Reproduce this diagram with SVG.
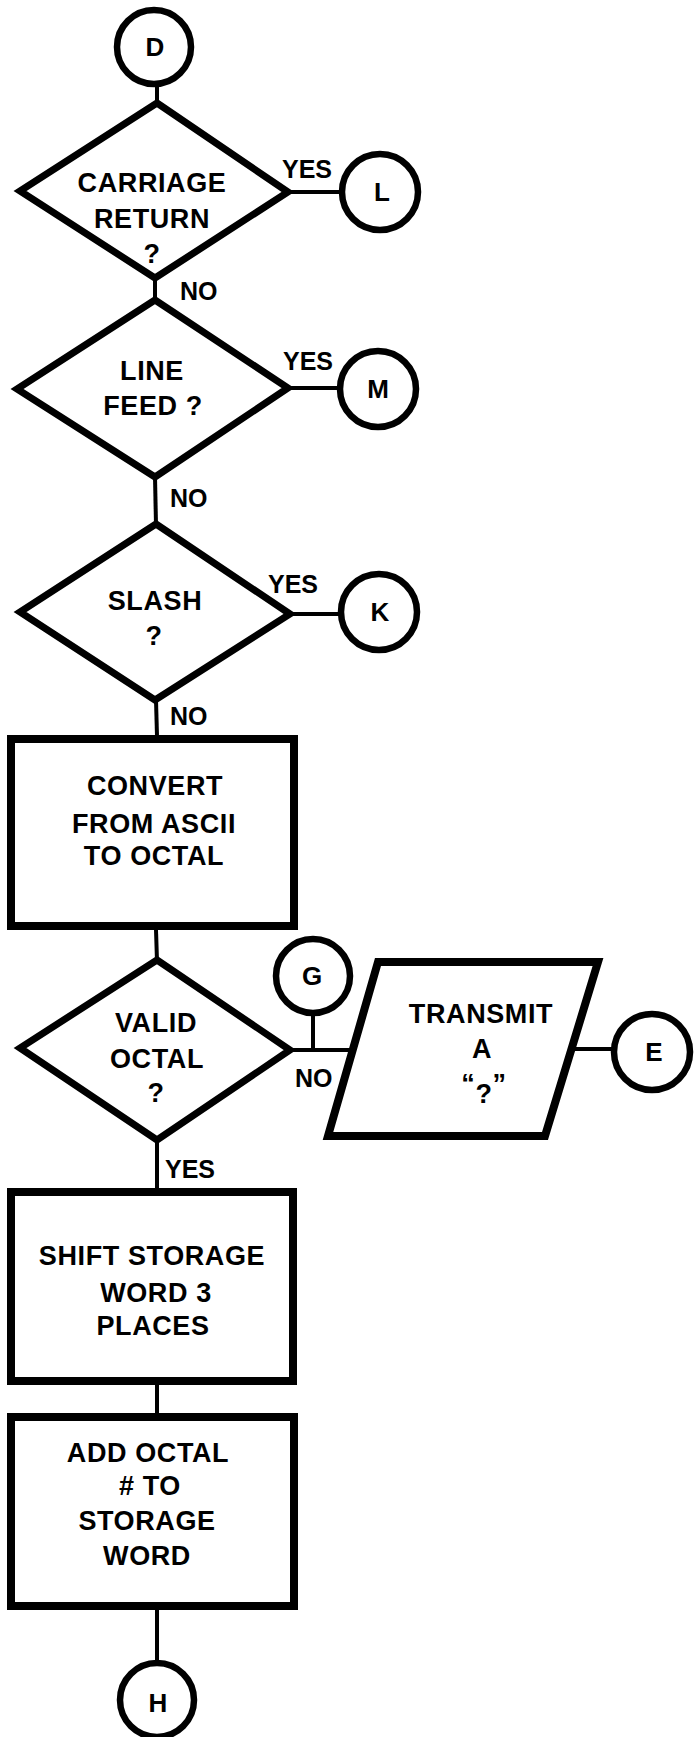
<svg xmlns="http://www.w3.org/2000/svg" width="699" height="1737" viewBox="0 0 699 1737">
<style>
.bg{fill:#fff}
.dia{fill:none;stroke:#000;stroke-width:7;stroke-linejoin:miter}
.box{fill:none;stroke:#000;stroke-width:8}
.circ{fill:none;stroke:#000;stroke-width:6.5}
.ln{fill:none;stroke:#000;stroke-width:4}
text{font-family:"Liberation Sans",Arial,sans-serif;font-weight:bold;fill:#000}
.t{font-size:27px;text-anchor:middle;letter-spacing:0.6px}
.l{font-size:25px}
.c{font-size:26px;text-anchor:middle}
</style>
<rect class="bg" x="0" y="0" width="699" height="1737"/>
<g id="connectors">
<line class="ln" x1="157" y1="84" x2="157" y2="104"/>
<line class="ln" x1="288" y1="192" x2="343" y2="192"/>
<line class="ln" x1="155" y1="278" x2="155" y2="301"/>
<line class="ln" x1="288" y1="388" x2="341" y2="388"/>
<line class="ln" x1="155" y1="477" x2="156" y2="525"/>
<line class="ln" x1="290" y1="614" x2="342" y2="614"/>
<line class="ln" x1="156" y1="700" x2="157" y2="736"/>
<line class="ln" x1="156" y1="930" x2="157" y2="961"/>
<line class="ln" x1="290" y1="1050" x2="355" y2="1050"/>
<line class="ln" x1="313" y1="1013" x2="313" y2="1050"/>
<line class="ln" x1="572" y1="1049" x2="614" y2="1049"/>
<line class="ln" x1="157" y1="1140" x2="157" y2="1189"/>
<line class="ln" x1="157" y1="1385" x2="157" y2="1414"/>
<line class="ln" x1="157" y1="1610" x2="157" y2="1663"/>
<text class="l" x="282" y="178">YES</text>
<text class="l" x="180" y="300">NO</text>
<text class="l" x="283" y="370">YES</text>
<text class="l" x="170" y="507">NO</text>
<text class="l" x="268" y="593">YES</text>
<text class="l" x="170" y="725">NO</text>
<text class="l" x="295" y="1087">NO</text>
<text class="l" x="165" y="1178">YES</text>
</g>
<g id="D"><circle class="circ" cx="154" cy="47" r="37"/><text class="c" x="155" y="56">D</text></g>
<g id="carriage">
<polygon class="dia" points="157,103 288,192 155,278 20,191"/>
<text class="t" x="152" y="192">CARRIAGE</text>
<text class="t" x="152" y="228">RETURN</text>
<text class="t" x="152" y="263">?</text>
</g>
<g id="L"><circle class="circ" cx="380" cy="192" r="38"/><text class="c" x="382" y="201">L</text></g>
<g id="linefeed">
<polygon class="dia" points="155,300 288,388 155,477 17,389"/>
<text class="t" x="152" y="380">LINE</text>
<text class="t" x="153" y="415">FEED ?</text>
</g>
<g id="M"><circle class="circ" cx="378" cy="389" r="38"/><text class="c" x="378" y="398">M</text></g>
<g id="slash">
<polygon class="dia" points="156,524 290,614 155,700 20,612"/>
<text class="t" x="155" y="610">SLASH</text>
<text class="t" x="154" y="645">?</text>
</g>
<g id="K"><circle class="circ" cx="379" cy="612" r="38"/><text class="c" x="380" y="621">K</text></g>
<g id="convert">
<rect class="box" x="11" y="739" width="283" height="187"/>
<text class="t" x="155" y="795">CONVERT</text>
<text class="t" x="154" y="833">FROM ASCII</text>
<text class="t" x="154" y="865">TO OCTAL</text>
</g>
<g id="valid">
<polygon class="dia" points="157,960 290,1050 157,1140 20,1048"/>
<text class="t" x="156" y="1032">VALID</text>
<text class="t" x="157" y="1068">OCTAL</text>
<text class="t" x="156" y="1102">?</text>
</g>
<g id="G"><circle class="circ" cx="313" cy="976" r="37"/><text class="c" x="312" y="985">G</text></g>
<g id="transmit">
<polygon class="box" points="378,962 598,962 545,1136 328,1136"/>
<text class="t" x="481" y="1023">TRANSMIT</text>
<text class="t" x="482" y="1058">A</text>
<text class="t" x="484" y="1103"><tspan dy="-10">“</tspan><tspan dy="10">?</tspan><tspan dy="-10">”</tspan></text>
</g>
<g id="E"><circle class="circ" cx="652" cy="1052" r="38"/><text class="c" x="654" y="1061">E</text></g>
<g id="shift">
<rect class="box" x="11" y="1192" width="282" height="189"/>
<text class="t" x="152" y="1265">SHIFT STORAGE</text>
<text class="t" x="156" y="1302">WORD 3</text>
<text class="t" x="153" y="1335">PLACES</text>
</g>
<g id="add">
<rect class="box" x="11" y="1417" width="283" height="189"/>
<text class="t" x="148" y="1462">ADD OCTAL</text>
<text class="t" x="150" y="1495"># TO</text>
<text class="t" x="147" y="1530">STORAGE</text>
<text class="t" x="147" y="1565">WORD</text>
</g>
<g id="H"><circle class="circ" cx="157" cy="1700" r="37"/><text class="c" x="158" y="1712">H</text></g>
</svg>
